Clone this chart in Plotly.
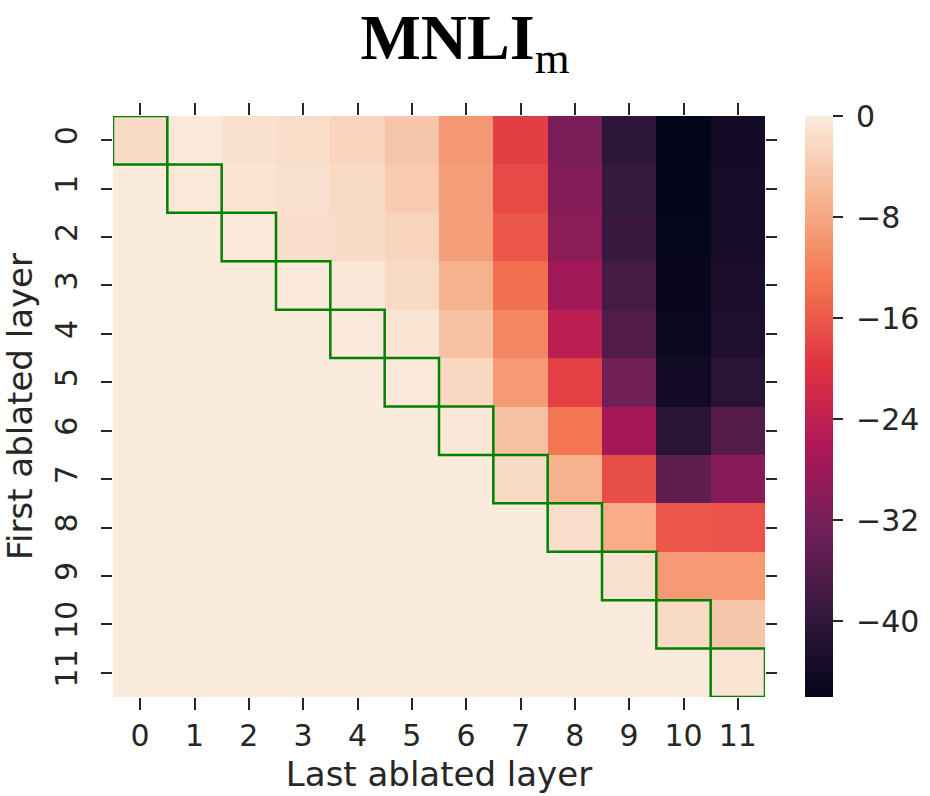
import plotly.graph_objects as go

# Layer indices for both axes
layers = list(range(12))
tick_labels = [str(i) for i in layers]

# Accuracy change (percentage points) when ablating layers first..last.
# Row = first ablated layer, column = last ablated layer; cells with first > last are 0.
row_0 = [-2.0, -0.4, -1.2, -1.7, -2.7, -4.4, -9.6, -18.6, -31.8, -40.5, -46.0, -43.7]
row_1 = [0, -0.3, -0.8, -1.3, -2.0, -3.9, -9.0, -17.6, -30.8, -39.6, -45.8, -43.6]
row_2 = [0, 0, -0.3, -1.5, -1.8, -2.7, -8.8, -16.1, -30.0, -39.0, -45.6, -43.4]
row_3 = [0, 0, 0, -0.2, -0.5, -2.0, -6.8, -13.7, -27.6, -37.7, -45.3, -43.0]
row_4 = [0, 0, 0, 0, -0.2, -0.7, -4.9, -11.2, -24.4, -36.4, -44.9, -42.6]
row_5 = [0, 0, 0, 0, 0, -0.3, -2.4, -9.3, -18.5, -32.7, -43.9, -41.0]
row_6 = [0, 0, 0, 0, 0, 0, -0.5, -4.9, -13.2, -27.3, -40.8, -36.1]
row_7 = [0, 0, 0, 0, 0, 0, 0, -2.0, -6.8, -17.1, -34.6, -30.2]
row_8 = [0, 0, 0, 0, 0, 0, 0, 0, -1.5, -7.3, -16.1, -16.6]
row_9 = [0, 0, 0, 0, 0, 0, 0, 0, 0, -1.2, -9.3, -9.3]
row_10 = [0, 0, 0, 0, 0, 0, 0, 0, 0, 0, -2.0, -4.4]
row_11 = [0, 0, 0, 0, 0, 0, 0, 0, 0, 0, 0, -0.7]
z = [row_0, row_1, row_2, row_3, row_4, row_5, row_6,
     row_7, row_8, row_9, row_10, row_11]

cbar_ticks = [0, -8, -16, -24, -32, -40]

# seaborn "rocket" colormap
rocket = [
    [0.0, "#03051A"],
    [1 / 7, "#35193E"],
    [2 / 7, "#701F57"],
    [3 / 7, "#AD1759"],
    [4 / 7, "#E13342"],
    [5 / 7, "#F37651"],
    [6 / 7, "#F6B48F"],
    [1.0, "#FAEBDD"],
]

flat = [v for r in z for v in r]
zmin, zmax = min(flat), max(flat)

ink = "#262626"
font = "DejaVu Sans"
tick_size = 30
label_size = 34
pad = "\u2005"  # small gap between colorbar ticks and their labels


def cbar_label(t):
    return pad + (("\u2212" + str(-t)) if t < 0 else str(t))


fig = go.Figure()
fig.add_trace(go.Heatmap(
    x=layers, y=layers, z=z,
    colorscale=rocket, zmin=zmin, zmax=zmax,
    colorbar=dict(
        x=1.061, xanchor="left", xpad=0,
        y=0.5, yanchor="middle", ypad=0,
        len=1.0, lenmode="fraction", thickness=28,
        outlinewidth=0,
        tickvals=cbar_ticks,
        ticktext=[cbar_label(t) for t in cbar_ticks],
        ticks="outside", ticklen=10, tickwidth=2, tickcolor=ink,
        tickfont=dict(family=font, size=tick_size, color=ink),
    ),
    hoverongaps=False,
))

# Boxes around the diagonal (single-layer ablations)
for i in layers:
    fig.add_shape(
        type="rect", xref="x", yref="y",
        x0=i - 0.5, x1=i + 0.5, y0=i - 0.5, y1=i + 0.5,
        line=dict(color="#008000", width=2.5),
        fillcolor="rgba(0,0,0,0)",
    )

fig.update_layout(
    width=930, height=796,
    margin=dict(l=113, r=165, t=116, b=99, autoexpand=False),
    plot_bgcolor="white", paper_bgcolor="white",
    title=dict(
        text="<b>MNLI</b><sub>m</sub>",
        x=0.5, xref="container", xanchor="center",
        y=0.982, yref="container", yanchor="top",
        font=dict(family="Liberation Serif", size=64, color="black"),
    ),
    xaxis=dict(
        title=dict(text="Last ablated layer", standoff=10,
                   font=dict(family=font, size=label_size, color=ink)),
        tickvals=layers, ticktext=tick_labels,
        range=[-0.5, 11.5], automargin=False,
        ticks="outside", ticklen=12, tickwidth=2, tickcolor=ink,
        mirror="ticks", showline=False, showgrid=False, zeroline=False,
        tickfont=dict(family=font, size=tick_size, color=ink),
    ),
    yaxis=dict(
        title=dict(text="First ablated layer", standoff=8,
                   font=dict(family=font, size=label_size, color=ink)),
        tickvals=layers, ticktext=tick_labels,
        range=[11.5, -0.5], automargin=False,
        ticks="outside", ticklen=11, tickwidth=2, tickcolor=ink,
        mirror="ticks", showline=False, showgrid=False, zeroline=False,
        tickangle=-90, ticklabelstandoff=12,
        tickfont=dict(family=font, size=tick_size, color=ink),
    ),
)

fig.write_html("out.html")
